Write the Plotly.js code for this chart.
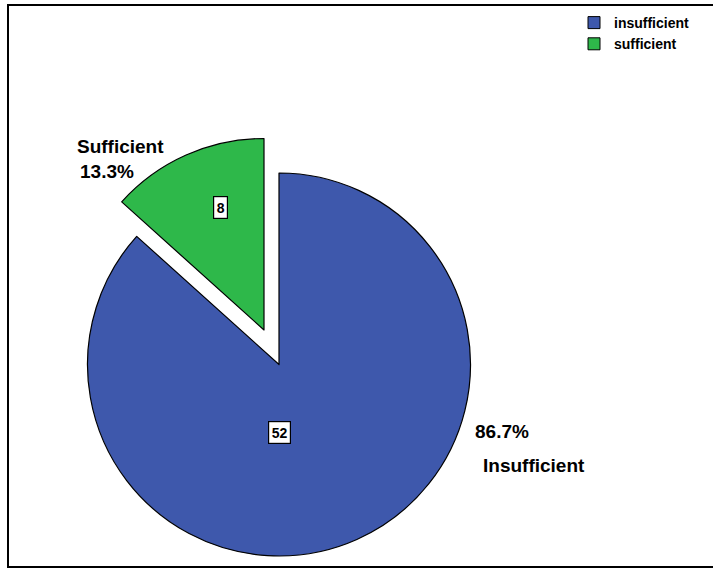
<!DOCTYPE html>
<html>
<head>
<meta charset="utf-8">
<script src="https://cdn.plot.ly/plotly-3.0.1.min.js"></script>
<style>html,body{margin:0;padding:0;background:#fff;overflow:hidden;}#chart{width:713px;height:568px;}</style>
</head>
<body>
<div id="chart"></div>
<script>
// ---- data ----
const categories = ['insufficient', 'sufficient'];
const displayNames = ['Insufficient', 'Sufficient'];
const counts = [52, 8];
const sliceColors = ['#3E58AC', '#2EB84A'];

// ---- layout constants ----
const W = 713, H = 568;
const R = 191.5;                 // pie radius (px)
const mainCenter = [279, 364.5]; // centre of the whole pie (px)
const pulledCenter = [264, 330]; // centre of the exploded slice (px)
const FONT = '"Liberation Sans", Arial, sans-serif';

function domainFor(c) {
  return {
    x: [(c[0] - R) / W, (c[0] + R) / W],
    y: [(H - c[1] - R) / H, (H - c[1] + R) / H]
  };
}
const px = x => x / W;
const py = y => 1 - y / H;

const total = counts.reduce((a, b) => a + b, 0);
const pct = counts.map(v => (100 * v / total).toFixed(1) + '%');

const transparent = 'rgba(0,0,0,0)';

const common = {
  type: 'pie', labels: categories, values: counts, sort: false,
  direction: 'clockwise', rotation: 0, textinfo: 'none', hoverinfo: 'none'
};

const traces = [
  // legend source (tiny, hidden under the legend box)
  Object.assign({}, common, {
    showlegend: true,
    domain: {x: [0.95, 0.9502], y: [0.95, 0.9502]},
    marker: {colors: sliceColors, line: {color: '#000', width: 1}}
  }),
  // main pie: insufficient slice
  Object.assign({}, common, {
    showlegend: false,
    domain: domainFor(mainCenter),
    marker: {colors: [sliceColors[0], transparent], line: {color: ['#000', transparent], width: 1.2}}
  }),
  // exploded slice: sufficient
  Object.assign({}, common, {
    showlegend: false,
    domain: domainFor(pulledCenter),
    marker: {colors: [transparent, sliceColors[1]], line: {color: [transparent, '#000'], width: 1.2}}
  })
];

const outFont = {family: FONT, size: 19, color: '#000', weight: 'bold'};
const boxFont = {family: FONT, size: 14, color: '#000', weight: 'bold'};

const annotations = [
  {text: '<b>' + displayNames[1] + '</b>', x: px(75), y: py(146), xanchor: 'left', yanchor: 'middle'},
  {text: '<b>' + pct[1] + '</b>', x: px(78), y: py(171), xanchor: 'left', yanchor: 'middle'},
  {text: '<b>' + pct[0] + '</b>', x: px(473), y: py(431), xanchor: 'left', yanchor: 'middle'},
  {text: '<b>' + displayNames[0] + '</b>', x: px(481), y: py(465), xanchor: 'left', yanchor: 'middle'}
].map(a => Object.assign(a, {xref: 'paper', yref: 'paper', showarrow: false, font: outFont}));

[[counts[0], 279, 432], [counts[1], 220, 207]].forEach(([v, x, y]) => {
  annotations.push({
    text: '<b>' + v + '</b>', x: px(x), y: py(y), xref: 'paper', yref: 'paper',
    xanchor: 'center', yanchor: 'middle', showarrow: false, font: boxFont,
    bgcolor: '#fff', bordercolor: '#000', borderwidth: 1.2, borderpad: 2.5
  });
});

const layout = {
  width: W, height: H,
  margin: {l: 0, r: 0, t: 0, b: 0},
  paper_bgcolor: '#fff', plot_bgcolor: '#fff',
  showlegend: true,
  legend: {
    x: px(574), y: py(7), xanchor: 'left', yanchor: 'top',
    bgcolor: '#fff', borderwidth: 0, itemwidth: 30,
    font: {family: FONT, size: 14, color: '#000', weight: 'bold'},
    tracegroupgap: 0
  },
  annotations: annotations,
  shapes: [{
    type: 'rect', xref: 'paper', yref: 'paper',
    x0: px(8), x1: 1.02, y0: py(567), y1: py(5),
    line: {color: '#000', width: 2}, fillcolor: transparent, layer: 'below'
  }]
};

Plotly.newPlot('chart', traces, layout, {displayModeBar: false, staticPlot: true});
</script>
</body>
</html>
